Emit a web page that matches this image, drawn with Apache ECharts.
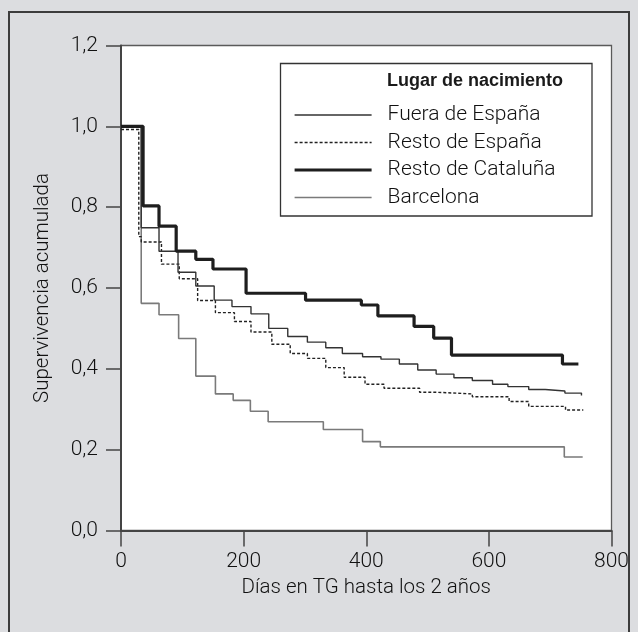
<!DOCTYPE html>
<html>
<head>
<meta charset="utf-8">
<script src="https://cdn.jsdelivr.net/npm/echarts@6/dist/echarts.min.js"></script>
<style>
  html, body { margin: 0; padding: 0; background: #dcdde0; }
  #chart { width: 638px; height: 632px; }
</style>
</head>
<body>
<div id="chart"></div>
<script>
// días y supervivencia acumulada (valor desde ese día en adelante)
var fueraDias = [0, 33, 62, 93, 122, 152, 181, 212, 241, 272, 304, 334, 361, 394, 424, 454, 484, 514, 543, 573, 606, 631, 665, 692, 724, 751]
var fueraVals = [1.0, 0.749, 0.691, 0.639, 0.605, 0.570, 0.554, 0.536, 0.500, 0.480, 0.466, 0.452, 0.438, 0.430, 0.424, 0.412, 0.397, 0.387, 0.378, 0.371, 0.362, 0.356, 0.349, 0.345, 0.340, 0.334]

var restoEspDias = [0, 29, 33, 66, 95, 125, 154, 185, 212, 246, 276, 304, 334, 364, 398, 429, 487, 515, 573, 633, 665, 725, 754]
var restoEspVals = [0.992, 0.727, 0.714, 0.659, 0.623, 0.569, 0.539, 0.517, 0.491, 0.461, 0.438, 0.426, 0.403, 0.379, 0.362, 0.352, 0.342, 0.338, 0.331, 0.319, 0.307, 0.298, 0.298]

var catDias = [0, 36, 62, 90, 122, 150, 204, 301, 392, 419, 478, 510, 539, 720, 746]
var catVals = [1.0, 0.803, 0.753, 0.691, 0.671, 0.647, 0.587, 0.570, 0.558, 0.531, 0.505, 0.476, 0.434, 0.412, 0.412]

var bcnDias = [0, 33, 62, 94, 122, 154, 183, 211, 240, 330, 394, 423, 723, 753]
var bcnVals = [1.0, 0.562, 0.534, 0.475, 0.382, 0.338, 0.322, 0.295, 0.269, 0.250, 0.220, 0.207, 0.182, 0.182]

var nombres = ['Fuera de España', 'Resto de España', 'Resto de Cataluña', 'Barcelona']

// estilo de cada curva
var estilos = [
  { color: '#333', width: 1.4, type: 'solid' },
  { color: '#222', width: 1.4, type: [3, 2] },
  { color: '#1e1e1e', width: 3.2, type: 'solid' },
  { color: '#7a7a7a', width: 1.6, type: 'solid' }
]

function pares(dias, vals) {
  return dias.map(function (d, i) { return [d, vals[i]] })
}

var FONT = 'Roboto'
var chart = echarts.init(document.getElementById('chart'))

var series = [[fueraDias, fueraVals], [restoEspDias, restoEspVals], [catDias, catVals], [bcnDias, bcnVals]].map(function (s, i) {
  return {
    name: nombres[i], type: 'line', step: 'end', symbol: 'none',
    z: [3, 2, 4, 1][i],
    data: pares(s[0], s[1]),
    lineStyle: { color: estilos[i].color, width: estilos[i].width, type: estilos[i].type },
    itemStyle: { color: estilos[i].color }
  }
})

chart.setOption({
  backgroundColor: '#dcdde0',
  animation: false,
  graphic: [
    {
      type: 'rect', z: -10, silent: true,
      shape: { x: 9, y: 12, width: 620, height: 640 },
      style: { fill: 'none', stroke: '#3c3c3c', lineWidth: 2 }
    },
    {
      type: 'rect', z: 10, silent: true,
      shape: { x: 280.5, y: 63.5, width: 311.5, height: 152.5 },
      style: { fill: '#fff', stroke: '#333', lineWidth: 1.3 }
    },
    {
      type: 'text', z: 11, silent: true,
      left: 387, top: 72,
      style: { text: 'Lugar de nacimiento', fill: '#1a1a1a', font: 'bold 18px "Liberation Sans", sans-serif' }
    }
  ],
  grid: {
    left: 121, right: 26.5, top: 45.5, bottom: 101.5,
    show: true, backgroundColor: '#fff', borderColor: '#5a5a5a', borderWidth: 1.3
  },
  legend: {
    z: 12,
    orient: 'vertical',
    left: 293, top: 104.5,
    padding: 0,
    itemWidth: 77, itemHeight: 14, itemGap: 6.5,
    itemStyle: { opacity: 0 },
    data: nombres.map(function (n, i) {
      return { name: n, lineStyle: { color: estilos[i].color, width: estilos[i].width, type: estilos[i].type } }
    }),
    textStyle: { fontFamily: FONT, fontWeight: 300, fontSize: 21, color: '#111', padding: [0, 0, 0, 11] }
  },
  xAxis: {
    type: 'value', min: 0, max: 800, interval: 200,
    name: 'Días en TG hasta los 2 años',
    nameLocation: 'middle', nameGap: 41,
    nameTextStyle: { fontFamily: FONT, fontWeight: 300, fontSize: 20.5, color: '#111' },
    axisLine: { lineStyle: { color: '#444', width: 2 } },
    axisTick: { length: 16, lineStyle: { color: '#444', width: 1.5 } },
    axisLabel: { margin: 21, fontFamily: FONT, fontWeight: 300, fontSize: 21, color: '#111' },
    splitLine: { show: false }
  },
  yAxis: {
    type: 'value', min: 0, max: 1.2, interval: 0.2,
    name: 'Supervivencia acumulada',
    nameLocation: 'middle', nameGap: 68,
    nameTextStyle: { fontFamily: FONT, fontWeight: 300, fontSize: 20.5, color: '#111' },
    axisLine: { show: true, lineStyle: { color: '#444', width: 2 } },
    axisTick: { show: true, length: 15, lineStyle: { color: '#444', width: 1.5 } },
    axisLabel: {
      margin: 23, fontFamily: FONT, fontWeight: 300, fontSize: 21, color: '#111',
      formatter: function (v) { return v.toFixed(1).replace('.', ',') }
    },
    splitLine: { show: false }
  },
  series: series
})
</script>
</body>
</html>
